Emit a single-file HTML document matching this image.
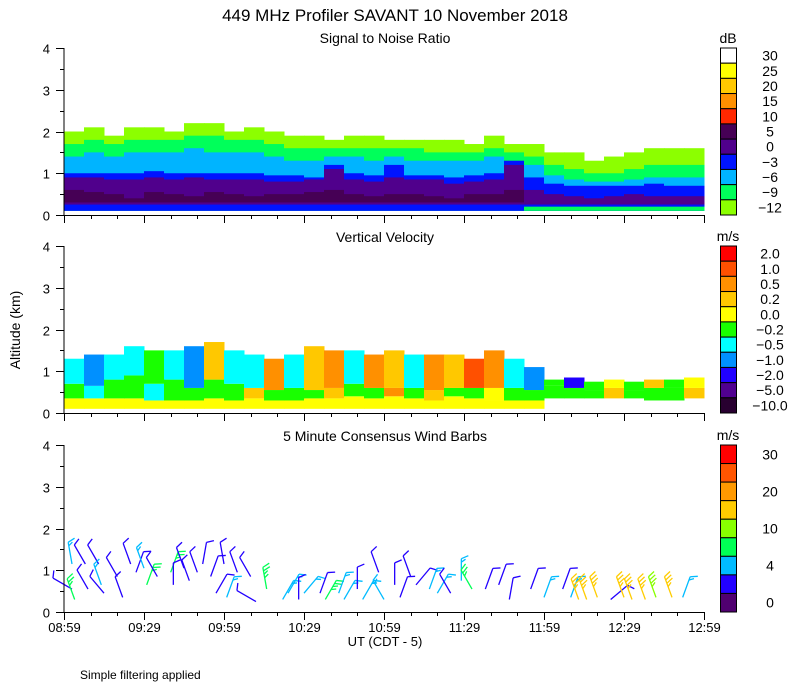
<!DOCTYPE html>
<html><head><meta charset="utf-8"><style>
html,body{margin:0;padding:0;background:#fff;}
svg{display:block;font-family:"Liberation Sans",sans-serif;}
text{fill:#000;}
</style></head><body>
<svg id="c" width="800" height="700" viewBox="0 0 800 700" xmlns="http://www.w3.org/2000/svg">
<text x="395" y="21" font-size="17" text-anchor="middle">449 MHz Profiler SAVANT 10 November 2018</text>
<text x="385" y="43" font-size="14" text-anchor="middle">Signal to Noise Ratio</text>
<text x="385" y="242" font-size="14" text-anchor="middle">Vertical Velocity</text>
<text x="385" y="441" font-size="14" text-anchor="middle">5 Minute Consensus Wind Barbs</text>
<text x="20" y="330" font-size="14" text-anchor="middle" transform="rotate(-90 20 330)">Altitude (km)</text>
<text x="385" y="646" font-size="13" text-anchor="middle">UT  (CDT - 5)</text>
<text x="80" y="679" font-size="12">Simple filtering applied</text>
<g id="g1"></g>
<g id="g2"></g>
<g id="g3"></g>
<g id="axes"></g>
<g id="bars"></g>
</svg>
<script>
// ---- data ----
const xTickLabels = ["08:59","09:29","09:59","10:29","10:59","11:29","11:59","12:29","12:59"];
const yTickLabels = ["0","1","2","3","4"];
const snrLabels = ["30","25","20","15","10","5","0","\u22123","\u22126","\u22129","\u221212"];
const snrColors = ["#ffffff","#ffff00","#ffc800","#ff9000","#ff2800","#460055","#50008c","#0014ff","#00b4ff","#00ff5a","#8cff00"];
const velLabels = ["2.0","1.0","0.5","0.2","0.0","\u22120.2","\u22120.5","\u22121.0","\u22122.0","\u22125.0","\u221210.0"];
const velColors = ["#ff0000","#ff5000","#ff9000","#ffc800","#ffff00","#19ff00","#00ffff","#0090ff","#2000ff","#500090","#280030"];
const windLabels = ["30","","20","","10","","4","","0"];
const windColors = ["#ff0000","#ff5500","#ff9900","#ffcc00","#88ff00","#00ff55","#00bbff","#2200ff","#500070"];
const windBins = [30,25,20,15,10,7,4,2,0];
// SNR layer tops (km), 32 time columns
const snrLime  =[2.0,2.1,1.9,2.1,2.1,2.0,2.2,2.2,2.0,2.1,2.0,1.9,1.9,1.8,1.9,1.9,1.8,1.8,1.8,1.8,1.7,1.9,1.7,1.7,1.5,1.5,1.3,1.4,1.5,1.6,1.6,1.6];
const snrGreen =[1.7,1.8,1.7,1.8,1.8,1.8,1.9,1.9,1.8,1.8,1.7,1.6,1.6,1.6,1.6,1.6,1.6,1.6,1.5,1.5,1.5,1.6,1.5,1.4,1.2,1.1,1.0,1.0,1.1,1.2,1.2,1.2];
const snrCyan  =[1.4,1.5,1.4,1.5,1.5,1.5,1.6,1.5,1.5,1.5,1.4,1.3,1.3,1.4,1.4,1.3,1.4,1.3,1.3,1.3,1.3,1.4,1.2,1.2,0.95,0.85,0.8,0.8,0.85,0.9,0.9,0.9];
const snrBlue  =[1.0,1.0,1.0,1.0,1.05,1.0,1.0,1.0,1.0,1.0,0.95,0.95,0.9,1.2,1.0,0.95,1.2,0.95,0.95,0.9,0.95,1.0,1.3,0.9,0.75,0.7,0.7,0.7,0.7,0.75,0.7,0.7];
const snrPurple=[0.9,0.9,0.85,0.85,0.9,0.85,0.9,0.85,0.85,0.85,0.8,0.8,0.85,1.1,0.85,0.8,0.9,0.85,0.85,0.75,0.8,0.85,1.2,0.6,0.5,0.45,0.4,0.45,0.5,0.45,0.45,0.45];
const snrDark  =[0.6,0.55,0.5,0.4,0.55,0.5,0.45,0.55,0.5,0.45,0.5,0.5,0.55,0.6,0.5,0.45,0.5,0.5,0.45,0.4,0.5,0.5,0.6,0,0,0,0,0,0,0,0,0];
// Vertical velocity (km, colour index)
const vBase     =[0.1,0.1,0.1,0.1,0.1,0.1,0.1,0.1,0.1,0.1,0.1,0.1,0.1,0.1,0.1,0.1,0.1,0.1,0.1,0.1,0.1,0.1,0.1,0.1,0.35,0.35,0.35,0.35,0.35,0.3,0.3,0.35];
const vYellowTop=[0.35,0.35,0.35,0.35,0.3,0.3,0.3,0.35,0.3,0.35,0.3,0.3,0.35,0.35,0.4,0.35,0.4,0.35,0.3,0.4,0.35,0.3,0.3,0.3,0.35,0.35,0.35,0.35,0.35,0.3,0.3,0.35];
const vMidTop   =[0.7,0.65,0.8,0.9,0.7,0.8,0.6,0.8,0.7,0.6,0.55,0.6,0.55,0.6,0.7,0.6,0.6,0.6,0.55,0.6,0.6,0.6,0.6,0.55,0.65,0.6,0.55,0.6,0.55,0.6,0.6,0.6];
const vTop      =[1.3,1.4,1.4,1.6,1.5,1.5,1.6,1.7,1.5,1.4,1.3,1.4,1.6,1.5,1.5,1.4,1.5,1.4,1.4,1.4,1.3,1.5,1.3,1.1,0.8,0.85,0.75,0.8,0.75,0.8,0.8,0.85];
const vMidColor =[5,6,5,5,6,5,5,5,5,3,5,5,5,3,5,5,2,5,3,5,5,4,5,5,5,5,5,3,5,5,5,3];
const vUpColor  =[6,7,6,6,5,6,7,3,6,6,2,6,3,2,6,2,3,6,2,3,1,2,6,7,5,8,5,4,5,3,5,4];
// Wind barbs: minutes after 08:59, height km, speed m/s, direction deg
const barbT=[3,3,4,8,9,13,14,15,20,22,25,27,30,31,35,40,41,45,47,50,52,55,57,60,61,65,70,72,76,82,84,88,90,96,98,103,105,110,112,118,120,124,126,130,132,137,140,145,149,153,158,163,167,175,180,187,190,193,196,200,205,210,213,218,222,228,232];
const barbH=[1.15,0.55,0.3,1.15,0.55,1.15,0.65,0.45,0.85,0.35,1.15,0.95,1.05,0.65,0.85,0.95,0.65,1.05,0.75,0.95,1.15,0.85,0.45,1.15,0.35,0.95,0.85,0.25,0.55,0.3,0.45,0.3,0.45,0.45,0.3,0.45,0.3,0.55,0.3,0.95,0.3,0.65,0.35,0.85,0.65,0.55,0.45,0.45,0.75,0.55,0.55,0.65,0.3,0.55,0.35,0.55,0.35,0.3,0.3,0.35,0.3,0.35,0.3,0.3,0.35,0.35,0.35];
const barbS=[5,2,8,3,2,3,5,2,3,3,3,2,5,8,2,8,2,2,3,3,2,2,2,3,5,3,3,3,9,5,5,2,5,3,9,5,5,3,5,3,5,2,2,2,3,5,5,3,5,8,3,3,3,3,4,3,5,16,16,16,3,16,16,16,12,16,5];
const barbD=[350,300,340,330,330,330,340,320,330,340,340,20,340,20,330,20,0,340,340,340,10,20,30,350,20,340,330,300,350,30,30,0,40,20,30,20,30,0,30,340,330,0,20,340,40,20,30,330,0,330,20,20,10,20,20,20,20,340,340,340,50,340,340,340,340,340,20];
// ---- helpers ----
const NS="http://www.w3.org/2000/svg";
const X0=64,X1=704,T0=0,T1=240;
const panels=[{id:"g1",top:48,bot:215},{id:"g2",top:246,bot:413},{id:"g3",top:445,bot:612}];
function xs(t){return X0+(t-T0)/(T1-T0)*(X1-X0);}
function ys(p,km){return p.bot-km/4*(p.bot-p.top);}
function mk(tag,attrs,parent){const e=document.createElementNS(NS,tag);for(const k in attrs)e.setAttribute(k,attrs[k]);parent.appendChild(e);return e;}
const N=snrLime.length, cw=(X1-X0)/N;
const g1=document.getElementById("g1"), P1=panels[0];
function band(g,p,i,lo,hi,col,name){
  if(hi<=lo)return;
  const r=mk("rect",{x:X0+i*cw,y:ys(p,hi),width:cw+0.5,height:ys(p,lo)-ys(p,hi),fill:col},g);
  
  
}
for(let i=0;i<N;i++){
  band(g1,P1,i,0.1,snrLime[i],snrColors[10],'snr-cell');
  band(g1,P1,i,0.1,snrGreen[i],snrColors[9],'snr-cell');
  band(g1,P1,i,0.1,snrCyan[i],snrColors[8],'snr-cell');
  band(g1,P1,i,0.1,snrBlue[i],snrColors[7],'snr-cell');
  band(g1,P1,i,0.25,snrPurple[i],snrColors[6],'snr-cell');
  if(snrDark[i]>0) band(g1,P1,i,0.3,snrDark[i],snrColors[5],'snr-cell');
  if(i>=23) band(g1,P1,i,0.1,0.2,snrColors[9],'snr-cell');
}
const g2=document.getElementById("g2"), P2=panels[1];
for(let i=0;i<N;i++){
  band(g2,P2,i,vBase[i],vYellowTop[i],velColors[4],'velocity-cell');
  band(g2,P2,i,Math.max(vBase[i],vYellowTop[i]),vMidTop[i],velColors[vMidColor[i]],'velocity-cell');
  band(g2,P2,i,vMidTop[i],vTop[i],velColors[vUpColor[i]],'velocity-cell');
}
const g3=document.getElementById("g3"), P3=panels[2];
function wcol(s){for(let k=0;k<windBins.length;k++){if(s>=windBins[k])return windColors[k];}return windColors[8];}
for(let i=0;i<barbT.length;i++){
  const bx=xs(barbT[i]), by=ys(P3,barbH[i]), col=wcol(barbS[i]);
  const a=barbD[i]*Math.PI/180, dx=Math.sin(a), dy=-Math.cos(a), L=22;
  const tx=bx+dx*L, ty=by+dy*L;
  const g=mk("g",{stroke:col,"stroke-width":1.3,fill:"none"},g3);
  
  
  mk("line",{x1:bx,y1:by,x2:tx,y2:ty},g);
  let n=Math.max(1,Math.round(barbS[i]/2.5));
  const px=-dy, py=dx;
  for(let k=0;k<n;k++){
    const sx=tx-dx*k*3.5, sy=ty-dy*k*3.5, len=7*(k<Math.ceil(n/2)?1:0.6);
    mk("line",{x1:sx,y1:sy,x2:sx+px*len+dx*3,y2:sy+py*len+dy*3},g);
    if(k>=3)break;
  }
}
const ax=document.getElementById("axes");
panels.forEach((p,pi)=>{
  mk("line",{x1:X0,y1:p.top,x2:X0,y2:p.bot,stroke:"#000","stroke-width":1},ax);
  mk("line",{x1:X0,y1:p.bot+0.5,x2:X1,y2:p.bot+0.5,stroke:"#000","stroke-width":1},ax);
  for(let k=0;k<=8;k++){
    const km=k/2,y=Math.round(ys(p,km))+0.5;
    mk("line",{x1:X0-(k%2?4:8),y1:y,x2:X0,y2:y,stroke:"#000"},ax);
    if(k%2==0){const t=mk("text",{x:X0-14,y:y+5,"font-size":13,"text-anchor":"end"},ax);t.textContent=yTickLabels[k/2];
      }
  }
  for(let m=0;m<=T1;m+=10){
    const x=Math.round(xs(m))+0.5, big=m%30==0;
    mk("line",{x1:x,y1:p.bot,x2:x,y2:p.bot+(big?8:4),stroke:"#000"},ax);
    if(big&&pi==2){const t=mk("text",{x:x,y:p.bot+20,"font-size":13,"text-anchor":"middle"},ax);t.textContent=xTickLabels[m/30];
      }
  }
});
const bars=document.getElementById("bars");
function cbar(p,cols,labs,unit,name){
  const n=cols.length,h=(p.bot-p.top)/n;
  for(let k=0;k<n;k++){
    const r=mk("rect",{x:720.5,y:p.top+k*h,width:16,height:h,fill:cols[k],stroke:"#000","stroke-width":1},bars);
    
    if(labs[k]){const t=mk("text",{x:770,y:p.top+k*h+h/2+5,"font-size":14,"text-anchor":"middle"},bars);t.textContent=labs[k];
      }
  }
  const u=mk("text",{x:728,y:p.top-5,"font-size":14,"text-anchor":"middle"},bars);u.textContent=unit;
  
}
cbar(panels[0],snrColors,snrLabels,"dB","snr-colorbar");
cbar(panels[1],velColors,velLabels,"m/s","velocity-colorbar");
cbar(panels[2],windColors,windLabels,"m/s","wind-colorbar");
</script>
</body></html>
